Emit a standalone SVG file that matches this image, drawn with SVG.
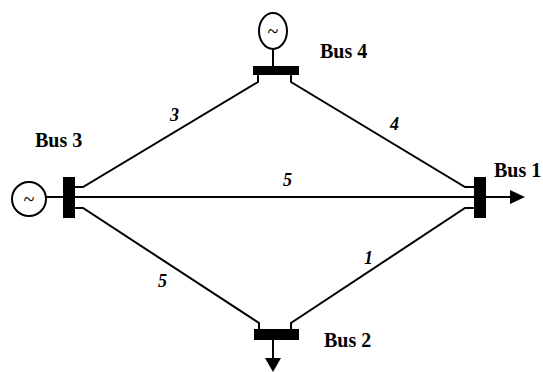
<svg xmlns="http://www.w3.org/2000/svg" width="543" height="372" viewBox="0 0 543 372">
<style>
.ln{stroke:#000;stroke-width:2;fill:none}
.bar{fill:#000}
.gen{fill:#fff;stroke:#000;stroke-width:2}
.bus{font-family:"Liberation Serif",serif;font-weight:bold;font-size:20px;fill:#000}
.lab{font-family:"Liberation Serif",serif;font-weight:bold;font-style:italic;font-size:18px;fill:#000}
.til{font-family:"Liberation Serif",serif;font-size:20px;fill:#000;text-anchor:middle}
</style>
<rect width="543" height="372" fill="#fff"/>
<g id="connectors">
<polyline class="ln" points="258,75 258,82 83,187 75,187"/>
<polyline class="ln" points="291,75 291,82 465,187 474,187"/>
<polyline class="ln" points="75,208 83,208 259,323 259,329"/>
<polyline class="ln" points="474,208 465,208 291,323 291,329"/>
<line class="ln" x1="46" y1="197" x2="512" y2="197"/>
<text class="lab" x="170" y="121">3</text>
<text class="lab" x="390" y="130">4</text>
<text class="lab" x="283" y="186">5</text>
<text class="lab" x="158" y="287">5</text>
<text class="lab" x="364" y="264">1</text>
</g>
<g id="bus4">
<line class="ln" x1="273" y1="49" x2="273" y2="66"/>
<ellipse class="gen" cx="273" cy="31" rx="14" ry="18"/>
<text class="til" x="273" y="38">~</text>
<rect class="bar" x="253" y="66" width="46" height="9"/>
<text class="bus" x="320" y="58">Bus 4</text>
</g>
<g id="bus3">
<circle class="gen" cx="29" cy="199" r="17"/>
<text class="til" x="29" y="206">~</text>
<rect class="bar" x="63" y="177" width="12" height="41"/>
<text class="bus" x="35" y="147">Bus 3</text>
</g>
<g id="bus1">
<rect class="bar" x="474" y="177" width="12" height="41"/>
<polygon points="510,190 525,197 510,204" fill="#000"/>
<text class="bus" x="494" y="177">Bus 1</text>
</g>
<g id="bus2">
<rect class="bar" x="254" y="329" width="45" height="11"/>
<line class="ln" x1="273" y1="340" x2="273" y2="360"/>
<polygon points="265,358 281,358 273,372" fill="#000"/>
<text class="bus" x="324" y="347">Bus 2</text>
</g>
</svg>
